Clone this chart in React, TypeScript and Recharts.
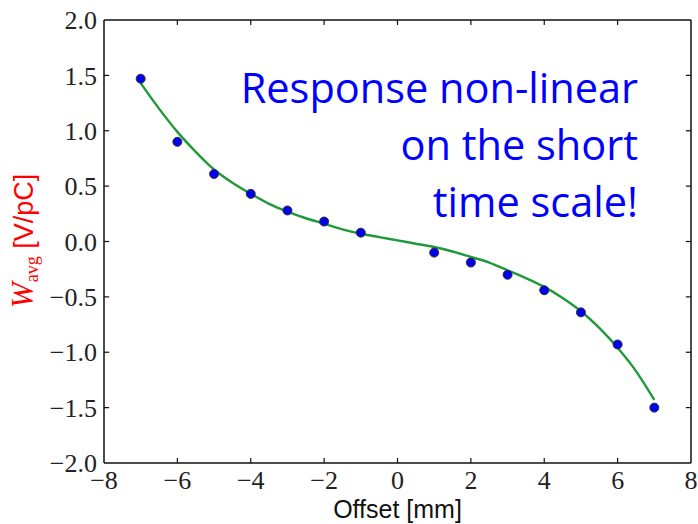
import { ComposedChart, Line, Scatter, XAxis, YAxis, ReferenceLine } from "recharts";

// measured points
const offsetMm = [-7, -6, -5, -4, -3, -2, -1, 1, 2, 3, 4, 5, 6, 7];
const wAvg = [1.47, 0.9, 0.61, 0.43, 0.28, 0.18, 0.08, -0.1, -0.19, -0.3, -0.44, -0.64, -0.93, -1.5];

// fitted curve
const fitX = [-7, -6.5, -6, -5.5, -5, -4.5, -4, -3.5, -3, -2.5, -2, -1.5, -1, -0.5, 0, 0.5, 1, 1.5, 2, 2.5, 3, 3.5, 4, 4.5, 5, 5.5, 6, 6.5, 7];
const fitY = [1.43, 1.2, 0.99, 0.81, 0.65, 0.53, 0.43, 0.34, 0.27, 0.21, 0.16, 0.11, 0.07, 0.04, 0.01, -0.02, -0.05, -0.09, -0.14, -0.19, -0.26, -0.33, -0.41, -0.51, -0.63, -0.78, -0.96, -1.17, -1.43];

const xTicks = [-8, -6, -4, -2, 0, 2, 4, 6, 8];
const yTicks = [-2, -1.5, -1, -0.5, 0, 0.5, 1, 1.5, 2];
const noteLines = ["Response non-linear", "on the short", "time scale!"];

const points = offsetMm.map((x, i) => ({ x, y: wAvg[i] }));
const fit = fitX.map((x, i) => ({ x, y: fitY[i] }));

const tickFont = { fontFamily: "Liberation Serif", fontSize: 26, fill: "#222" };
const axisStroke = { stroke: "#111", strokeWidth: 1.5 };
const frame = "#111";
// inward tick lengths in data units (~5px)
const xTickLen = 0.045;
const yTickLen = 0.14;

const fmtX = (v: number) => String(v).replace("-", "\u2212");
const fmtY = (v: number) => v.toFixed(1).replace("-", "\u2212");

export default function App() {
  return (
    <div style={{ position: "absolute", left: 0, top: 0, width: 698, height: 524, background: "#fff" }}>
      <ComposedChart
        width={698}
        height={524}
        margin={{ top: 20, right: 7, bottom: 0, left: 0 }}
      >
        <XAxis
          xAxisId="b"
          type="number"
          dataKey="x"
          domain={[-8, 8]}
          ticks={xTicks}
          allowDataOverflow
          height={61}
          tickSize={0}
          tickMargin={8}
          tick={tickFont}
          tickFormatter={fmtX}
          axisLine={axisStroke}
          tickLine={false}
          label={{
            content: ({ viewBox }: any) => (
              <text
                x={viewBox.x + viewBox.width / 2}
                y={518}
                textAnchor="middle"
                fontFamily="Liberation Sans"
                fontSize={25}
                fill="#111"
              >
                Offset [mm]
              </text>
            ),
          }}
        />
        <YAxis
          yAxisId="l"
          type="number"
          domain={[-2, 2]}
          ticks={yTicks}
          allowDataOverflow
          width={104}
          tickSize={0}
          tickMargin={7}
          tick={tickFont}
          tickFormatter={fmtY}
          axisLine={axisStroke}
          tickLine={false}
          label={{
            content: () => (
              <text transform="translate(33,241) rotate(-90)" textAnchor="middle" fill="#f00">
                <tspan fontFamily="Liberation Serif" fontStyle="italic" fontSize={31}>W</tspan>
                <tspan fontFamily="Liberation Serif" fontSize={18} dy={5}>avg</tspan>
                <tspan fontFamily="Liberation Sans" fontSize={27} dy={-5}> [V/pC]</tspan>
              </text>
            ),
          }}
        />
        <ReferenceLine xAxisId="b" yAxisId="l" y={2} stroke={frame} strokeWidth={1.5} />
        <ReferenceLine xAxisId="b" yAxisId="l" x={8} stroke={frame} strokeWidth={1.5} />
        {xTicks.slice(1, -1).map((t) => (
          <ReferenceLine
            key={`xb${t}`}
            xAxisId="b"
            yAxisId="l"
            segment={[{ x: t, y: -2 }, { x: t, y: -2 + xTickLen }]}
            stroke={frame}
            strokeWidth={1.2}
          />
        ))}
        {xTicks.slice(1, -1).map((t) => (
          <ReferenceLine
            key={`xt${t}`}
            xAxisId="b"
            yAxisId="l"
            segment={[{ x: t, y: 2 }, { x: t, y: 2 - xTickLen }]}
            stroke={frame}
            strokeWidth={1.2}
          />
        ))}
        {yTicks.slice(1, -1).map((t) => (
          <ReferenceLine
            key={`yl${t}`}
            xAxisId="b"
            yAxisId="l"
            segment={[{ x: -8, y: t }, { x: -8 + yTickLen, y: t }]}
            stroke={frame}
            strokeWidth={1.2}
          />
        ))}
        {yTicks.slice(1, -1).map((t) => (
          <ReferenceLine
            key={`yr${t}`}
            xAxisId="b"
            yAxisId="l"
            segment={[{ x: 8, y: t }, { x: 8 - yTickLen, y: t }]}
            stroke={frame}
            strokeWidth={1.2}
          />
        ))}
        <Line
          xAxisId="b"
          yAxisId="l"
          data={fit}
          dataKey="y"
          type="monotone"
          stroke="#1f9a3a"
          strokeWidth={2.4}
          dot={false}
          isAnimationActive={false}
        />
        <Scatter
          xAxisId="b"
          yAxisId="l"
          data={points}
          dataKey="y"
          fill="#0000ee"
          stroke="#333"
          strokeWidth={1}
          isAnimationActive={false}
        />
      </ComposedChart>
      <svg width={698} height={524} style={{ position: "absolute", left: 0, top: 0, pointerEvents: "none" }}>
        {noteLines.map((t, i) => (
          <text
            key={t}
            x={638}
            y={103 + i * 57}
            textAnchor="end"
            fontFamily="Open Sans"
            fontSize={41.5}
            fill="#0000ff"
          >
            {t}
          </text>
        ))}
      </svg>
    </div>
  );
}
